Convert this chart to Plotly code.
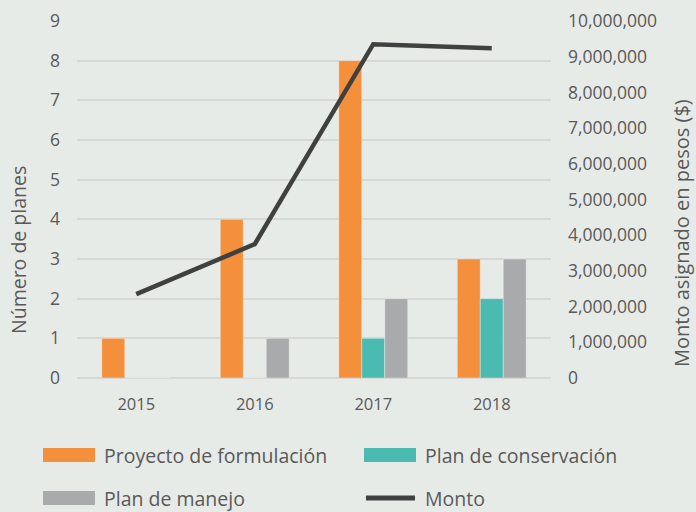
import plotly.graph_objects as go

# Planes por año y monto asignado
years = ["2015", "2016", "2017", "2018"]
proyecto_formulacion = [1, 4, 8, 3]
plan_conservacion = [0, 0, 1, 2]
plan_manejo = [0, 1, 2, 3]
monto = [2350000, 3750000, 9350000, 9240000]

ORANGE = "#F4903B"
TEAL = "#4BBAB0"
GRAY = "#A9AAAC"
DARK = "#404040"
TEXT = "#595959"
BG = "#E7EBE8"
GRID = "#D6D8D6"
FONT = "Open Sans"

W, H = 696, 512
L, R, T, B = 77, 145, 21, 134
PW, PH = W - L - R, H - T - B


def px(x):
    return (x - L) / PW


def py(y):
    return (H - B - y) / PH


fig = go.Figure()
edge = dict(width=1, color="rgba(255,255,255,0.35)")
fig.add_trace(go.Bar(x=years, y=proyecto_formulacion, name="Proyecto de formulación",
                     marker=dict(color=ORANGE, line=edge)))
fig.add_trace(go.Bar(x=years, y=plan_conservacion, name="Plan de conservación",
                     marker=dict(color=TEAL, line=edge)))
fig.add_trace(go.Bar(x=years, y=plan_manejo, name="Plan de manejo",
                     marker=dict(color=GRAY, line=edge)))
fig.add_trace(go.Scatter(x=years, y=monto, name="Monto", yaxis="y2", mode="lines",
                         line=dict(color=DARK, width=4.5)))

fig.update_traces(showlegend=False)

# Legend drawn as swatches + labels below the plot
legend_items = [
    ("Proyecto de formulación", ORANGE, "bar", 43, 455),
    ("Plan de conservación", TEAL, "bar", 364, 455),
    ("Plan de manejo", GRAY, "bar", 43, 498),
    ("Monto", DARK, "line", 364, 498),
]
shapes = []
annotations = []
for label, color, kind, x0, yc in legend_items:
    if kind == "bar":
        shapes.append(dict(type="rect", xref="paper", yref="paper",
                           x0=px(x0), x1=px(x0 + 52), y0=py(yc - 7), y1=py(yc + 7),
                           fillcolor=color, line=dict(width=0)))
    else:
        shapes.append(dict(type="line", xref="paper", yref="paper",
                           x0=px(x0 + 2), x1=px(x0 + 51), y0=py(yc), y1=py(yc),
                           line=dict(color=color, width=5)))
    annotations.append(dict(text=label, xref="paper", yref="paper",
                            x=px(x0 + 59), y=py(yc), xanchor="left", yanchor="middle",
                            showarrow=False, font=dict(family=FONT, size=19.5, color=TEXT)))

# Axis titles, placed as rotated labels beside each axis
annotations.append(dict(text="Número de planes", xref="paper", yref="paper",
                        x=px(19), y=py(250), xanchor="center", yanchor="middle",
                        textangle=-90, showarrow=False,
                        font=dict(family=FONT, size=19.5, color=TEXT)))
annotations.append(dict(text="Monto asignado en pesos ($)", xref="paper", yref="paper",
                        x=px(681), y=py(233), xanchor="center", yanchor="middle",
                        textangle=-90, showarrow=False,
                        font=dict(family=FONT, size=20, color=TEXT)))

fig.update_layout(
    width=W, height=H,
    margin=dict(l=L, r=R, t=T, b=B),
    paper_bgcolor=BG, plot_bgcolor=BG,
    barmode="group", bargap=0.418, bargroupgap=0,
    font=dict(family=FONT, color=TEXT),
    shapes=shapes, annotations=annotations,
    xaxis=dict(showgrid=False, showline=False, ticks="", tickfont=dict(size=16.5, color=TEXT),
               ticklabelstandoff=14, automargin=False),
    yaxis=dict(range=[0, 9], dtick=1, showgrid=True, gridcolor=GRID, gridwidth=1.7,
               zeroline=True, zerolinecolor=GRID, zerolinewidth=1.7,
               showline=False, ticks="", tickfont=dict(size=17.5, color=TEXT),
               ticklabelstandoff=16, automargin=False),
    yaxis2=dict(range=[0, 10000000], dtick=1000000, tickformat=",", overlaying="y",
                side="right", showgrid=False, zeroline=False, showline=False, ticks="",
                tickfont=dict(size=17.5, color=TEXT), ticklabelstandoff=16, automargin=False),
)

fig.write_html("out.html")
